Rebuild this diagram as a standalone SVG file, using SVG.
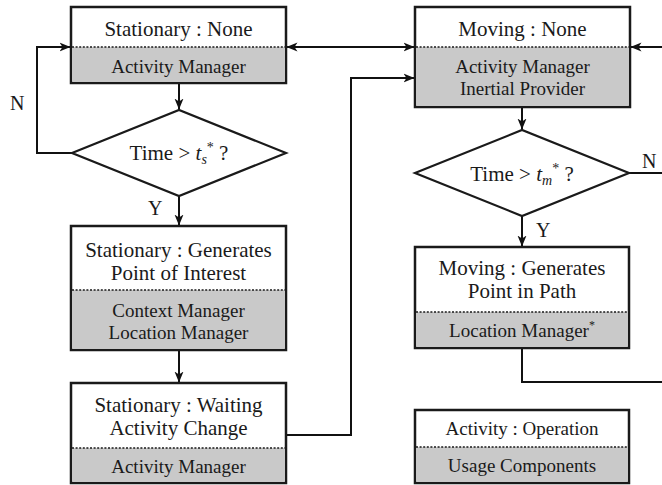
<svg xmlns="http://www.w3.org/2000/svg" width="662" height="485" viewBox="0 0 662 485">
  <defs>
    <marker id="arrow" viewBox="0 0 11 10" markerWidth="11" markerHeight="10" refX="10.5" refY="5" orient="auto-start-reverse" markerUnits="userSpaceOnUse">
      <path d="M0,0.5 L11,5 L0,9.5 L3,5 z" fill="#111"/>
    </marker>
    <style>
      .box { fill: #fff; stroke: #1a1a1a; stroke-width: 2.5; }
      .shade { fill: #c9c9c9; stroke: none; }
      .sep { stroke: #1a1a1a; stroke-width: 1.6; stroke-dasharray: 2 1.6; }
      .dia { fill: #fff; stroke: #1a1a1a; stroke-width: 2.2; stroke-linejoin: miter; }
      .wire { fill: none; stroke: #111; stroke-width: 2; }
      text { font-family: "Liberation Serif", "Times New Roman", serif; fill: #1a1a1a; }
      .title { font-size: 21px; text-anchor: middle; }
      .comp { font-size: 19px; text-anchor: middle; }
      .lbl { font-size: 20px; }
    </style>
  </defs>

  <!-- connectors -->
  <g id="connectors">
    <path class="wire" d="M179,83 V109" marker-end="url(#arrow)"/>
    <path class="wire" d="M72,153 H37 V47 H70" marker-end="url(#arrow)"/>
    <path class="wire" d="M179,196 V225" marker-end="url(#arrow)"/>
    <path class="wire" d="M179,350 V382" marker-end="url(#arrow)"/>
    <path class="wire" d="M286,435 H351 V78 H414" marker-end="url(#arrow)"/>
    <path class="wire" d="M287,47 H414" marker-start="url(#arrow)" marker-end="url(#arrow)"/>
    <path class="wire" d="M662,47 H631" marker-end="url(#arrow)"/>
    <path class="wire" d="M522,107 V129" marker-end="url(#arrow)"/>
    <path class="wire" d="M522,216 V246" marker-end="url(#arrow)"/>
    <path class="wire" d="M629,173 H662"/>
    <path class="wire" d="M522,348 V382 H662"/>
    <text class="lbl" x="10" y="110">N</text>
    <text class="lbl" x="148" y="215">Y</text>
    <text class="lbl" x="536" y="237">Y</text>
    <text class="lbl" x="642" y="168">N</text>
  </g>

  <!-- Stationary : None -->
  <g id="stationary-none">
    <rect class="box" x="71" y="7" width="215" height="76"/>
    <rect class="shade" x="72.25" y="47" width="212.5" height="34.75"/>
    <line class="sep" x1="72" y1="47" x2="285" y2="47"/>
    <text class="title" x="178.5" y="36">Stationary : None</text>
    <text class="comp" x="178.5" y="73">Activity Manager</text>
  </g>

  <!-- Decision: stationary timeout -->
  <g id="stationary-timeout">
    <polygon class="dia" points="72,153 179,110 286,153 179,196"/>
    <text class="title" x="179" y="160">Time &gt; <tspan font-style="italic">t</tspan><tspan font-style="italic" font-size="14" dy="4">s</tspan><tspan font-size="14" dy="-12">*</tspan><tspan dy="8"> ?</tspan></text>
  </g>

  <!-- Stationary : Generates Point of Interest -->
  <g id="stationary-poi">
    <rect class="box" x="71" y="226" width="215" height="124"/>
    <rect class="shade" x="72.25" y="290" width="212.5" height="58.75"/>
    <line class="sep" x1="72" y1="290" x2="285" y2="290"/>
    <text class="title" x="178.5" y="257">Stationary : Generates</text>
    <text class="title" x="178.5" y="280">Point of Interest</text>
    <text class="comp" x="178.5" y="317">Context Manager</text>
    <text class="comp" x="178.5" y="339">Location Manager</text>
  </g>

  <!-- Stationary : Waiting Activity Change -->
  <g id="stationary-waiting">
    <rect class="box" x="71" y="383" width="215" height="100"/>
    <rect class="shade" x="72.25" y="448" width="212.5" height="33.75"/>
    <line class="sep" x1="72" y1="448" x2="285" y2="448"/>
    <text class="title" x="178.5" y="412">Stationary : Waiting</text>
    <text class="title" x="178.5" y="435">Activity Change</text>
    <text class="comp" x="178.5" y="473">Activity Manager</text>
  </g>

  <!-- Moving : None -->
  <g id="moving-none">
    <rect class="box" x="415" y="7" width="215" height="100"/>
    <rect class="shade" x="416.25" y="47" width="212.5" height="58.75"/>
    <line class="sep" x1="416" y1="47" x2="629" y2="47"/>
    <text class="title" x="522.5" y="36">Moving : None</text>
    <text class="comp" x="522.5" y="73">Activity Manager</text>
    <text class="comp" x="522.5" y="95">Inertial Provider</text>
  </g>

  <!-- Decision: moving timeout -->
  <g id="moving-timeout">
    <polygon class="dia" points="415,173 522,130 629,173 522,216"/>
    <text class="title" x="522" y="181">Time &gt; <tspan font-style="italic">t</tspan><tspan font-style="italic" font-size="14" dy="4">m</tspan><tspan font-size="14" dy="-12">*</tspan><tspan dy="8"> ?</tspan></text>
  </g>

  <!-- Moving : Generates Point in Path -->
  <g id="moving-path">
    <rect class="box" x="415" y="247" width="214" height="101"/>
    <rect class="shade" x="416.25" y="312" width="211.5" height="34.75"/>
    <line class="sep" x1="416" y1="312" x2="628" y2="312"/>
    <text class="title" x="522" y="275">Moving : Generates</text>
    <text class="title" x="522" y="298">Point in Path</text>
    <text class="comp" x="522" y="337">Location Manager<tspan font-size="12" dy="-8">*</tspan></text>
  </g>

  <!-- Legend -->
  <g id="legend">
    <rect class="box" x="415" y="410" width="214" height="73"/>
    <rect class="shade" x="416.25" y="447" width="211.5" height="34.75"/>
    <line class="sep" x1="416" y1="447" x2="628" y2="447"/>
    <text class="comp" x="522" y="435">Activity : Operation</text>
    <text class="comp" x="522" y="472">Usage Components</text>
  </g>
</svg>
